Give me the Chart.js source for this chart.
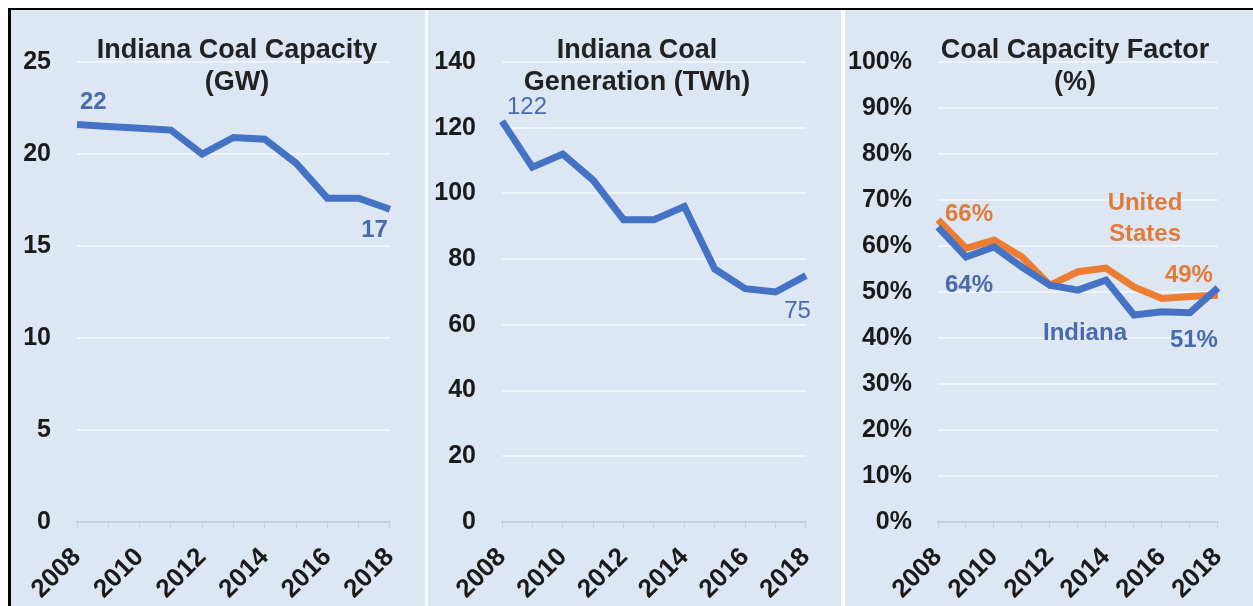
<!DOCTYPE html>
<html>
<head>
<meta charset="utf-8">
<script src="https://cdn.jsdelivr.net/npm/chart.js@4/dist/chart.umd.min.js"></script>
<style>
  body { margin: 0; background: #fff; width: 1253px; height: 606px; overflow: hidden; position: relative; font-family: Arial, "Liberation Sans", sans-serif; }
  .frame { position: absolute; left: 8px; top: 8px; width: 1245px; height: 598px; border-left: 3px solid #000; border-top: 2px solid #000; box-sizing: border-box; }
  .panel { position: absolute; top: 10px; height: 596px; background: #dde7f3; }
  .panel canvas { display: block; }
</style>
</head>
<body>
<div class="frame"></div>
<div class="panel" style="left:11px;width:414px"><canvas id="capChart" width="414" height="596"></canvas></div>
<div class="panel" style="left:428px;width:413px"><canvas id="genChart" width="413" height="596"></canvas></div>
<div class="panel" style="left:845px;width:408px"><canvas id="cfChart" width="408" height="596"></canvas></div>
<script>
const years = ['2008', '2009', '2010', '2011', '2012', '2013', '2014', '2015', '2016', '2017', '2018'];
const capacityGW = [21.6, 21.5, 21.4, 21.3, 20.0, 20.9, 20.8, 19.5, 17.6, 17.6, 17.0];
const generationTWh = [122, 108, 112, 104, 92, 92, 96, 77, 71, 70, 75];
const cfIndiana = [64.1, 57.6, 59.8, 55.4, 51.5, 50.4, 52.6, 45.0, 45.7, 45.5, 50.9];
const cfUnitedStates = [65.7, 59.5, 61.3, 57.6, 51.5, 54.4, 55.2, 51.1, 48.6, 49.0, 49.3];

const blue = '#4472c4';
const orange = '#ed7d31';
const blueText = '#4a6aae';
const orangeText = '#e07b3a';
const fontFam = 'Arial, "Liberation Sans", sans-serif';

// titles and labels drawn on top of the plot
const notesPlugin = {
    id: 'notes',
    afterDatasetsDraw(chart, args, opts) {
        const ctx = chart.ctx;
        const xs = chart.scales.x, ys = chart.scales.y;
        ctx.save();
        ctx.textBaseline = 'middle';
        ctx.font = 'bold 27px ' + fontFam;
        ctx.fillStyle = '#222';
        ctx.textAlign = 'center';
        opts.title.forEach((line, i) => ctx.fillText(line, opts.titleX, 41 + i * 32));
        (opts.notes || []).forEach(n => {
            const v = chart.data.datasets[n.ds].data[n.i];
            const px = xs.getPixelForValue(n.i);
            const py = ys.getPixelForValue(v);
            ctx.font = (n.weight || 'bold') + ' 24px ' + fontFam;
            ctx.fillStyle = n.color;
            ctx.textAlign = n.align;
            const txt = n.text !== undefined ? n.text : Math.round(v) + (opts.suffix || '');
            ctx.fillText(txt, px + n.dx, py + n.dy);
        });
        ctx.restore();
    }
};

function makePanel(id, datasets, yMax, yStep, suffix, axisWidth, notes) {
    new Chart(document.getElementById(id).getContext('2d'), {
        type: 'line',
        data: { labels: years, datasets: datasets },
        plugins: [notesPlugin],
        options: {
            responsive: false,
            animation: false,
            devicePixelRatio: 1,
            layout: { padding: { top: 52, right: 35, left: 0, bottom: 0 } },
            plugins: {
                legend: { display: false },
                tooltip: { enabled: false },
                notes: notes
            },
            elements: { point: { radius: 0 }, line: { tension: 0, borderWidth: 7 } },
            scales: {
                x: {
                    grid: { drawOnChartArea: false, drawTicks: true, tickLength: 7, color: '#c8d0da' },
                    border: { display: true, color: '#c8d0da', width: 2 },
                    ticks: {
                        autoSkip: false, minRotation: 45, maxRotation: 45, padding: 13,
                        color: '#1a1a1a', font: { family: fontFam, size: 26, weight: 'bold' },
                        callback: (v, i) => (i % 2 === 0 ? years[i] : '')
                    },
                    afterFit: s => { s.height = 84; }
                },
                y: {
                    min: 0, max: yMax,
                    grid: { color: '#eef4fa', lineWidth: 2, drawTicks: false },
                    border: { display: false },
                    ticks: {
                        stepSize: yStep, padding: 26,
                        color: '#1a1a1a', font: { family: fontFam, size: 25, weight: 'bold' },
                        callback: v => v + suffix
                    },
                    afterFit: s => { s.width = axisWidth; }
                }
            }
        }
    });
}

makePanel('capChart',
    [{ label: 'Indiana', data: capacityGW, borderColor: blue }],
    25, 5, '', 66,
    { title: ['Indiana Coal Capacity', '(GW)'], titleX: 226,
      notes: [
        { ds: 0, i: 0, dx: 3, dy: -22, align: 'left', color: blueText },
        { ds: 0, i: 10, dx: -2, dy: 21, align: 'right', color: blueText }
      ] });

makePanel('genChart',
    [{ label: 'Indiana', data: generationTWh, borderColor: blue }],
    140, 20, '', 74,
    { title: ['Indiana Coal', 'Generation (TWh)'], titleX: 209,
      notes: [
        { ds: 0, i: 0, dx: 5, dy: -14, align: 'left', color: blueText, weight: 'normal' },
        { ds: 0, i: 10, dx: 5, dy: 36, align: 'right', color: blueText, weight: 'normal' }
      ] });

makePanel('cfChart',
    [{ label: 'Indiana', data: cfIndiana, borderColor: blue },
     { label: 'United States', data: cfUnitedStates, borderColor: orange }],
    100, 10, '%', 93,
    { title: ['Coal Capacity Factor', '(%)'], titleX: 230, suffix: '%',
      notes: [
        { ds: 1, i: 0, dx: 7, dy: -5, align: 'left', color: orangeText },
        { ds: 0, i: 0, dx: 7, dy: 58, align: 'left', color: blueText },
        { ds: 1, i: 10, dx: -5, dy: -20, align: 'right', color: orangeText },
        { ds: 0, i: 10, dx: 0, dy: 53, align: 'right', color: blueText },
        { ds: 1, i: 7, dx: 11, dy: -84, align: 'center', color: orangeText, text: 'United' },
        { ds: 1, i: 7, dx: 11, dy: -53, align: 'center', color: orangeText, text: 'States' },
        { ds: 0, i: 5, dx: 7, dy: 43, align: 'center', color: blueText, text: 'Indiana' }
      ] });
</script>
</body>
</html>
